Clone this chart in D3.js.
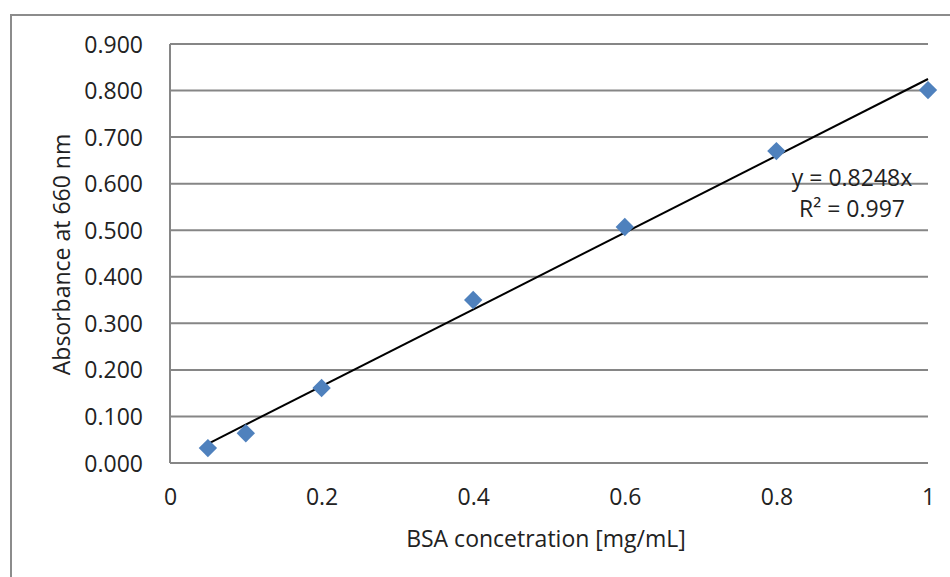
<!DOCTYPE html>
<html>
<head>
<meta charset="utf-8">
<script src="https://cdn.jsdelivr.net/npm/d3@7"></script>
<style>
  body { margin: 0; background: #fff; }
  text { font-family: "Open Sans", "DejaVu Sans", sans-serif; fill: #222; }
</style>
</head>
<body>
<div id="chart"></div>
<script>
var w = 950,
    h = 577;

// data
var concentration = [0.05, 0.1, 0.2, 0.4, 0.6, 0.8, 1.0];
var absorbance = [0.032, 0.064, 0.161, 0.350, 0.507, 0.670, 0.801];
var slope = 0.8248;
var xTicks = [0, 0.2, 0.4, 0.6, 0.8, 1];
var yTicks = [0, 0.1, 0.2, 0.3, 0.4, 0.5, 0.6, 0.7, 0.8, 0.9];
var eqLines = ["y = 0.8248x", "R² = 0.997"];

var m = {left: 170, right: 22, top: 44, bottom: 114};
var fs = "23px";

var svg = d3.select("#chart").append("svg")
  .attr("width", w)
  .attr("height", h);

// outer chart border
svg.append("rect")
  .attr("x", 11).attr("y", 15)
  .attr("width", w + 20).attr("height", h + 20)
  .attr("fill", "none")
  .attr("stroke", "#8c8c8c")
  .attr("stroke-width", 2);

var x = d3.scaleLinear().domain([0, 1]).range([m.left, w - m.right]);
var y = d3.scaleLinear().domain([0, 0.9]).range([h - m.bottom, m.top]);

// grid lines
svg.append("g")
  .selectAll("line")
  .data(yTicks)
  .enter().append("line")
  .attr("x1", m.left).attr("x2", w - m.right)
  .attr("y1", function(d) { return y(d); })
  .attr("y2", function(d) { return y(d); })
  .attr("stroke", "#868686")
  .attr("stroke-width", 2);

// left axis line
svg.append("line")
  .attr("x1", m.left).attr("x2", m.left)
  .attr("y1", y(0.9)).attr("y2", y(0))
  .attr("stroke", "#868686")
  .attr("stroke-width", 2);

var yAxis = svg.append("g")
  .attr("transform", "translate(" + (m.left - 24) + ",0)")
  .call(d3.axisLeft(y).tickValues(yTicks).tickFormat(d3.format(".3f")).tickSize(0));
yAxis.select(".domain").remove();
yAxis.selectAll("text").style("font-size", fs).attr("dy", "0.35em");

var xAxis = svg.append("g")
  .attr("transform", "translate(0," + (y(0) + 42) + ")")
  .call(d3.axisBottom(x).tickValues(xTicks).tickFormat(d3.format("")).tickSize(0));
xAxis.select(".domain").remove();
xAxis.selectAll("text").style("font-size", fs).attr("y", 0).attr("dy", "0");

// trend line
var line = d3.line()
  .x(function(d) { return x(d); })
  .y(function(d) { return y(slope * d); });

svg.append("path")
  .datum([concentration[0], concentration[concentration.length - 1]])
  .attr("d", line)
  .attr("fill", "none")
  .attr("stroke", "#000")
  .attr("stroke-width", 2);

// diamonds
svg.append("g")
  .selectAll("path")
  .data(concentration)
  .enter().append("path")
  .attr("d", d3.symbol().type(d3.symbolDiamond2).size(215))
  .attr("transform", function(d, i) { return "translate(" + x(d) + "," + y(absorbance[i]) + ")"; })
  .attr("fill", "#4f81bd");

// equation
svg.append("g")
  .selectAll("text")
  .data(eqLines)
  .enter().append("text")
  .attr("x", 852)
  .attr("y", function(d, i) { return 186 + i * 31; })
  .attr("text-anchor", "middle")
  .style("font-size", fs)
  .text(function(d) { return d; });

// axis titles
svg.append("text")
  .attr("x", x(0.5) - 3)
  .attr("y", 547)
  .attr("text-anchor", "middle")
  .style("font-size", fs)
  .text("BSA concetration [mg/mL]");

svg.append("text")
  .attr("transform", "translate(70," + (y(0.45) + 1) + ") rotate(-90)")
  .attr("text-anchor", "middle")
  .style("font-size", fs)
  .text("Absorbance at 660 nm");
</script>
</body>
</html>
